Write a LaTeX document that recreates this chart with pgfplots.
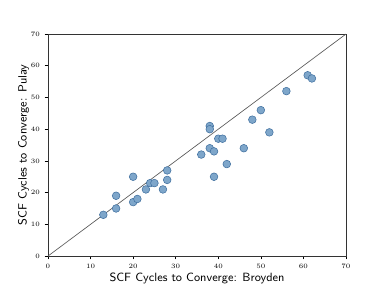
\documentclass[border=0pt]{standalone}
\usepackage{pgfplots}
\pgfplotsset{compat=1.18}
\definecolor{ptfill}{HTML}{7EA6CA}
\definecolor{ptedge}{HTML}{3F6F9F}
\begin{document}
\begin{tikzpicture}[x=1in,y=1in]
\path (0,0) rectangle (4,3);
\begin{axis}[
  at={(0.5in,0.333in)}, anchor=south west,
  scale only axis, width=3.104in, height=2.3125in,
  xmin=0, xmax=70, ymin=0, ymax=70,
  xtick={0,10,...,70}, ytick={0,10,...,70},
  tick label style={font=\fontsize{5.5}{6}\selectfont},
  tick align=outside, tick style={black, line width=0.4pt},
  major tick length=2.5pt,
  xtick pos=bottom, ytick pos=left,
  axis line style={black!80, line width=0.6pt},
  xlabel={\sffamily SCF Cycles to Converge: Broyden},
  ylabel={\sffamily SCF Cycles to Converge: Pulay},
  label style={font=\fontsize{9}{10}\selectfont},
  xlabel style={yshift=3.5pt},
  ylabel style={yshift=-5.5pt},
  clip=false,
]
\addplot[gray!70!black, line width=0.5pt] coordinates {(0,0) (70,70)};
\addplot[only marks, mark=*, mark size=2.9pt, mark options={fill=ptfill, draw=ptedge, line width=0.4pt}] coordinates {
(13,13) (16,19) (16,15) (20,25) (20,17) (21,18) (23,21) (24,23) (25,23) (27,21) (28,27) (28,24)
(36,32) (38,41) (38,40) (38,34) (39,33) (39,25) (40,37) (41,37) (42,29) (46,34) (48,43) (50,46)
(52,39) (56,52) (61,57) (62,56)
};
\end{axis}
\end{tikzpicture}
\end{document}
